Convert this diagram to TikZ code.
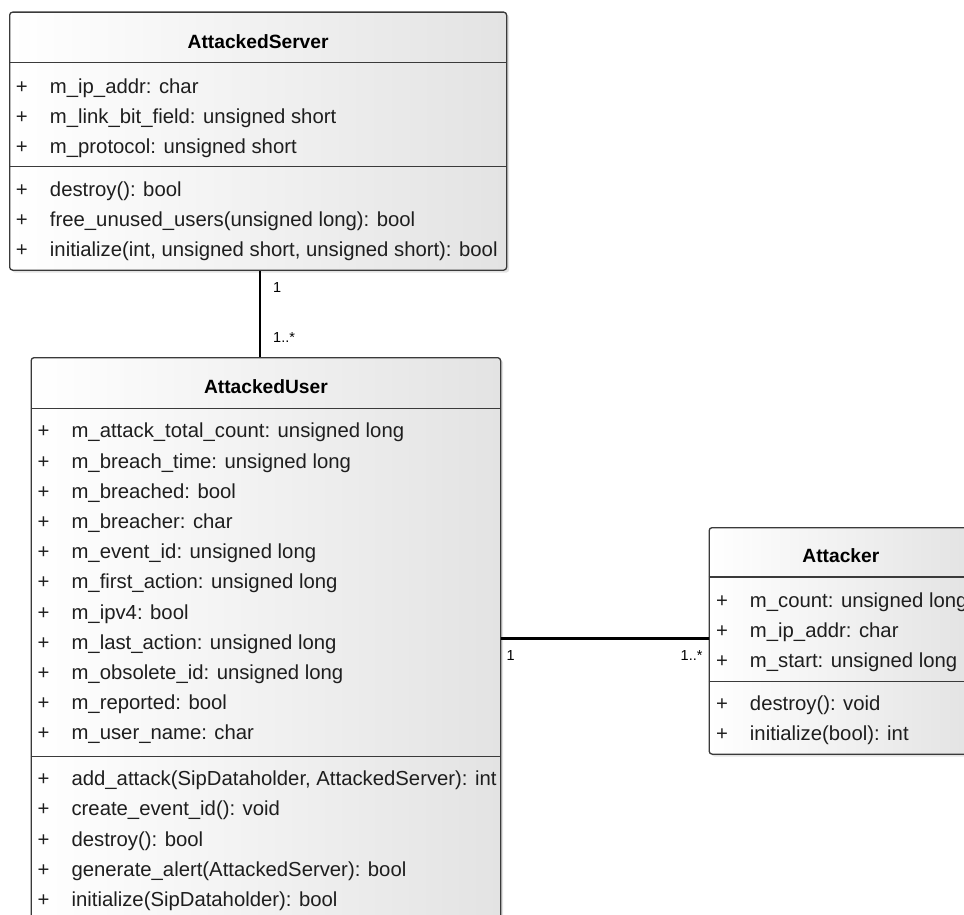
\documentclass[tikz,border=0pt]{standalone}
\usepackage{fontspec}
\setmainfont{Liberation Sans}
\usepackage{array}
\usetikzlibrary{calc,shadows}
\definecolor{ink}{HTML}{1E1E1E}
\definecolor{frame}{HTML}{3A3A3A}
\definecolor{fade}{HTML}{E3E3E3}
\newcommand{\memberrows}[1]{\begin{tabular}[t]{@{}p{34pt}@{}l@{}}#1\end{tabular}}

\begin{document}
\begin{tikzpicture}[x=1pt,y=-1pt,
  classbox/.style={draw=frame,line width=1.3pt,rounded corners=3pt,left color=white,right color=fade,
    drop shadow={shadow xshift=2.5pt,shadow yshift=-2.5pt,opacity=0.22},anchor=north west,inner sep=0pt},
  classtitle/.style={anchor=base,inner sep=0pt,font=\fontsize{19.2}{23}\selectfont\bfseries},
  members/.style={anchor=base west,inner sep=0pt,text=ink,font=\fontsize{20.3}{30.2}\selectfont},
  compline/.style={draw=frame,line width=1.3pt},
  assoc/.style={line width=2.2pt},
  mult/.style={inner sep=0pt,font=\fontsize{14.5}{16}\selectfont}]
\useasboundingbox (0,0) rectangle (964,915);
\clip (0,0) rectangle (964,915);

% classes
\node[classbox,minimum width=497pt,minimum height=258pt] (server) at (9,11.5) {};
\node[classbox,minimum width=469.5pt,minimum height=700pt] (user) at (30.5,357) {};
\node[classbox,minimum width=263.5pt,minimum height=226.5pt] (attacker) at (708.5,527) {};

% compartments
\draw[compline] ($(server.north west)+(0,51)$) -- ($(server.north east)+(0,51)$);
\draw[compline] ($(server.north west)+(0,155)$) -- ($(server.north east)+(0,155)$);
\draw[compline] ($(user.north west)+(0,51.5)$) -- ($(user.north east)+(0,51.5)$);
\draw[compline] ($(user.north west)+(0,399.5)$) -- ($(user.north east)+(0,399.5)$);
\draw[compline] ($(attacker.north west)+(0,50)$) -- ($(attacker.north east)+(0,50)$);
\draw[compline] ($(attacker.north west)+(0,154.7)$) -- ($(attacker.north east)+(0,154.7)$);

% AttackedServer
\node[classtitle] (server-name) at ($(server.north)+(0,37.1)$) {AttackedServer};
\node[members] (server-attr) at ($(server.north west)+(6.8,81.8)$) {\memberrows{
  + & m\_ip\_addr: char\\
  + & m\_link\_bit\_field: unsigned short\\
  + & m\_protocol: unsigned short}};
\node[members] (server-ops) at ($(server.north west)+(6.8,184.8)$) {\memberrows{
  + & destroy(): bool\\
  + & free\_unused\_users(unsigned long): bool\\
  + & initialize(int, unsigned short, unsigned short): bool}};

% AttackedUser
\node[classtitle] (user-name) at ($(user.north)+(0,36.6)$) {AttackedUser};
\node[members] (user-attr) at ($(user.north west)+(6.9,80.8)$) {\memberrows{
  + & m\_attack\_total\_count: unsigned long\\
  + & m\_breach\_time: unsigned long\\
  + & m\_breached: bool\\
  + & m\_breacher: char\\
  + & m\_event\_id: unsigned long\\
  + & m\_first\_action: unsigned long\\
  + & m\_ipv4: bool\\
  + & m\_last\_action: unsigned long\\
  + & m\_obsolete\_id: unsigned long\\
  + & m\_reported: bool\\
  + & m\_user\_name: char}};
\node[members] (user-ops) at ($(user.north west)+(6.9,428.6)$) {\memberrows{
  + & add\_attack(SipDataholder, AttackedServer): int\\
  + & create\_event\_id(): void\\
  + & destroy(): bool\\
  + & generate\_alert(AttackedServer): bool\\
  + & initialize(SipDataholder): bool}};

% Attacker
\node[classtitle] (attacker-name) at ($(attacker.north)+(0,35)$) {Attacker};
\node[members] (attacker-attr) at ($(attacker.north west)+(7.3,80.3)$) {\memberrows{
  + & m\_count: unsigned long\\
  + & m\_ip\_addr: char\\
  + & m\_start: unsigned long}};
\node[members] (attacker-ops) at ($(attacker.north west)+(7.3,183)$) {\memberrows{
  + & destroy(): void\\
  + & initialize(bool): int}};

% associations
\coordinate (srvfoot) at ([xshift=1.8pt]server.south);
\draw[assoc] (srvfoot) -- (srvfoot |- user.north);
\coordinate (atkside) at ([yshift=2.5pt]attacker.west);
\draw[assoc] (atkside) -- (atkside -| user.east);
\node[mult,anchor=west] (srv-one) at (273,288) {1};
\node[mult,anchor=west] (usr-many) at (273,338) {1..*};
\node[mult,anchor=west] (usr-one) at (506.5,656) {1};
\node[mult,anchor=east] (atk-many) at (702.7,656) {1..*};
\end{tikzpicture}
\end{document}
